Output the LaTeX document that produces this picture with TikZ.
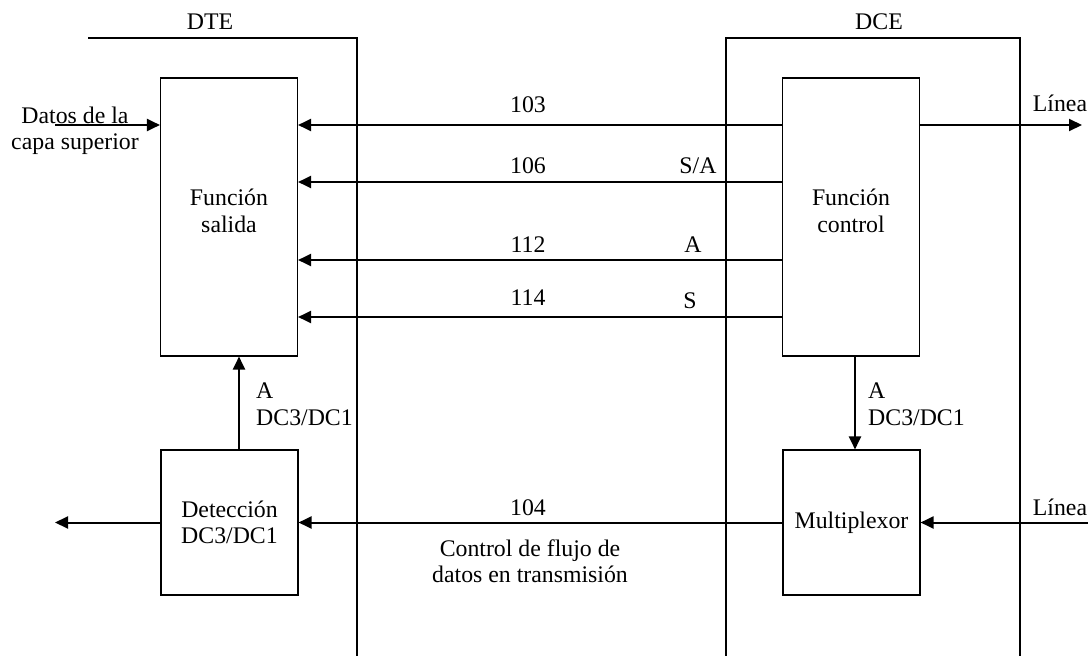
\documentclass[tikz,border=0pt]{standalone}
\usepackage{fontspec}
\setmainfont{Liberation Serif}
\usetikzlibrary{arrows.meta}
\begin{document}
\begin{tikzpicture}[x=1pt,y=-1pt,
  every node/.style={font=\fontsize{23.8}{26.5}\selectfont, inner sep=0pt},
  blk/.style={draw, line width=1.1pt, minimum width=137pt},
  sig/.style={line width=2pt, -{Triangle[length=13pt,width=12pt]}},
  frame/.style={line width=1.1pt},
  lbl/.style={align=left}]
\useasboundingbox (0,0) rectangle (1088,656);
% frames
\draw[frame] (88,38) -- (357,38) -- (357,656);
\draw[frame] (726,656) -- (726,38) -- (1020,38) -- (1020,656);
\node (dte) at (210,22) {DTE};
\node (dce) at (879,22) {DCE};
% blocks
\node[blk, minimum height=278pt] (sal) at (229,217) {};
\node[align=center] (saltxt) at (229,211) {Función\\salida};
\node[blk, minimum height=278pt] (ctl) at (851,217) {};
\node[align=center] (ctltxt) at (851,211) {Función\\control};
\node[blk, minimum height=145pt, align=center] (det) at (229.5,522.5) {Detección\\DC3/DC1};
\node[blk, minimum height=145pt] (mux) at (851.5,522.5) {Multiplexor};
% coordinates
\coordinate (din) at (55,125);
\coordinate (lout) at (1082,125);
\coordinate (lin) at (1088,522.5);
\coordinate (dout) at (55,522.5);
% signal lines
\draw[sig] (ctl.west |- 0,125) -- (sal.east |- 0,125);
\draw[sig] (ctl.west |- 0,182) -- (sal.east |- 0,182);
\draw[sig] (ctl.west |- 0,260) -- (sal.east |- 0,260);
\draw[sig] (ctl.west |- 0,317) -- (sal.east |- 0,317);
\draw[sig] (din) -- (sal.west |- din);
\draw[sig] (ctl.east |- lout) -- (lout);
\draw[sig] (lin) -- (mux.east);
\draw[sig] (mux.west) -- (det.east);
\draw[sig] (det.west) -- (dout);
\draw[sig] (det.north -| 239,0) -- (sal.south -| 239,0);
\draw[sig] (ctl.south -| 855,0) -- (mux.north -| 855,0);
% labels
\node (l103) at (528,105) {103};
\node (l106) at (528,166) {106};
\node (lsa) at (698,166) {S/A};
\node (l112) at (528,245) {112};
\node (la) at (693,245) {A};
\node (l114) at (528,298) {114};
\node (ls) at (690,301) {S};
\node (l104) at (528,508) {104};
\node[align=center] (lcf) at (530,561) {Control de flujo de\\datos en transmisión};
\node[align=center] (ldatos) at (75,131) {Datos de la\\capa superior};
\node (llin1) at (1060,103) {Línea};
\node (llin2) at (1060,507) {Línea};
\node[lbl, anchor=north west] (ldl) at (256,383) {A\\DC3/DC1};
\node[lbl, anchor=north west] (ldr) at (868,383) {A\\DC3/DC1};
\end{tikzpicture}
\end{document}
